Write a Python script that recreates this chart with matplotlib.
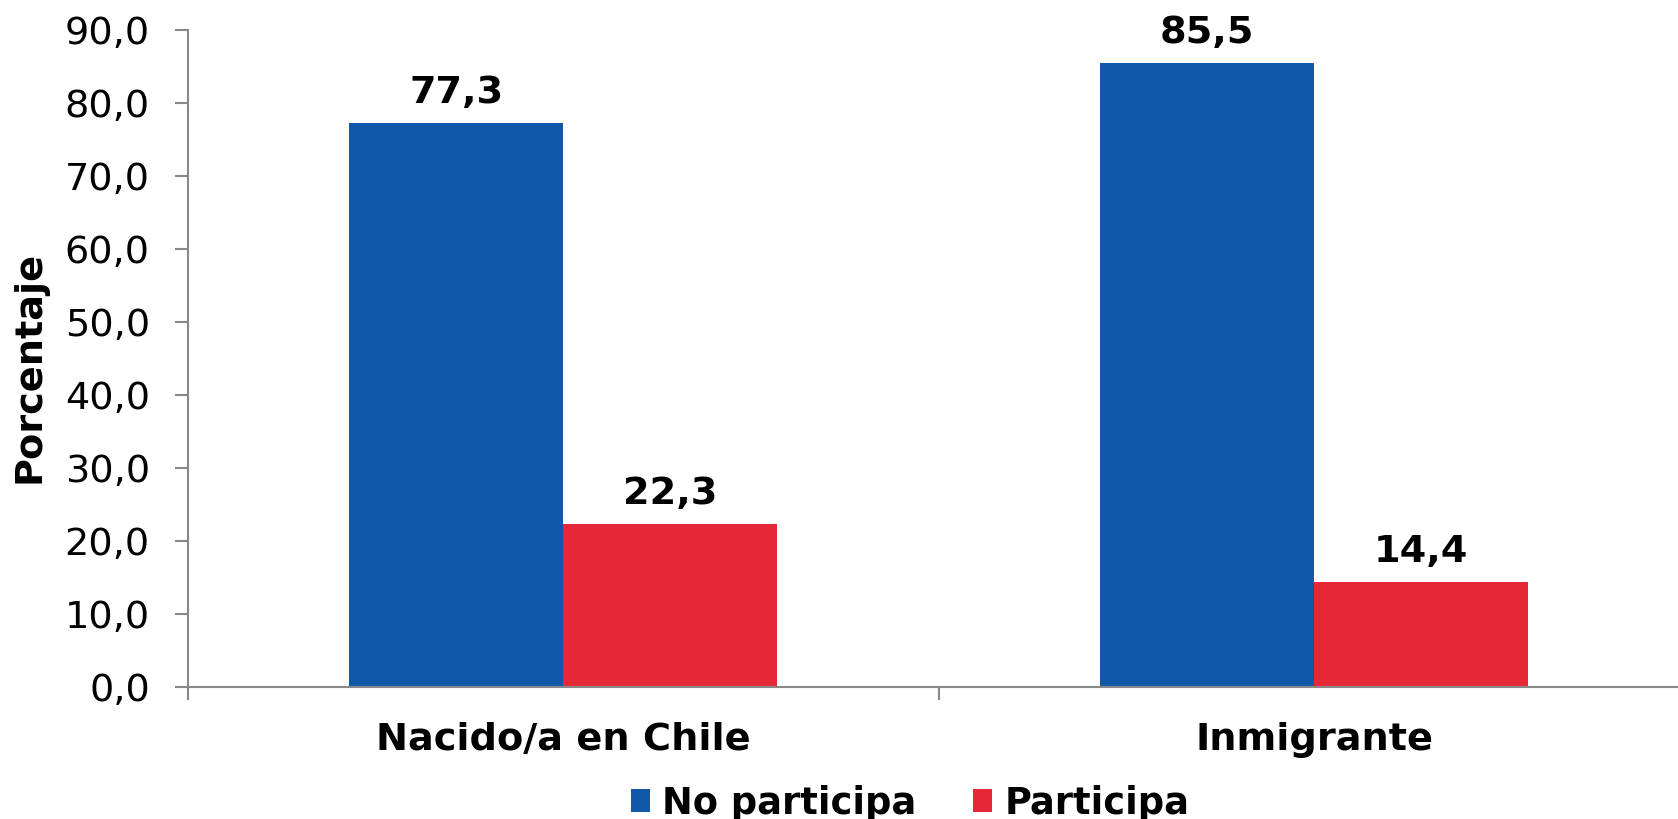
import matplotlib.pyplot as plt
import numpy as np

# datos
categorias = ['Nacido/a en Chile', 'Inmigrante']
no_participa = [77.3, 85.5]
participa = [22.3, 14.4]
series = ['No participa', 'Participa']
colores = ['#1057A7', '#E62836']


def main():
    plt.rcParams['font.family'] = 'DejaVu Sans'
    fig = plt.figure(figsize=(16.78, 8.19), dpi=100)
    # the axis runs a little past the right edge, like the original
    ax = fig.add_axes([188 / 1678, 132 / 819, (1689.5 - 188) / 1678, (687 - 30) / 819])

    ind = np.arange(len(categorias))
    width = 0.285
    b1 = ax.bar(ind - width / 2, no_participa, width, color=colores[0], label=series[0])
    b2 = ax.bar(ind + width / 2, participa, width, color=colores[1], label=series[1])

    for bars in (b1, b2):
        for rect in bars:
            h = rect.get_height()
            ax.annotate('{:.1f}'.format(h).replace('.', ','),
                        (rect.get_x() + rect.get_width() / 2, h),
                        xytext=(0, 8.5), textcoords='offset points',
                        ha='center', va='bottom', fontsize=27.5, fontweight='bold')

    ax.set_xlim(-0.5, 1.5)
    ax.set_ylim(0, 90)
    yt = np.arange(0, 91, 10)
    ax.set_yticks(yt)
    ax.set_yticklabels(['{:.1f}'.format(v).replace('.', ',') for v in yt], fontsize=27.5)
    ax.tick_params(axis='y', length=9.5, width=1.5, color='#888888', pad=18)

    ax.set_xticks(ind)
    ax.set_xticklabels(categorias, fontsize=27.5, fontweight='bold')
    ax.set_xticks([-0.5, 0.5, 1.5], minor=True)
    ax.tick_params(axis='x', which='major', length=0, pad=25)
    ax.tick_params(axis='x', which='minor', length=9, width=1.5, color='#888888')

    for s in ['top', 'right']:
        ax.spines[s].set_visible(False)
    for s in ['left', 'bottom']:
        ax.spines[s].set_color('#888888')
        ax.spines[s].set_linewidth(1.5)

    fig.text(30 / 1678, 1 - 367 / 819, 'Porcentaje', rotation=90, ha='center', va='center',
             fontsize=27.5, fontweight='bold')

    fig.legend(handles=[b1, b2], labels=series, loc='center',
               bbox_to_anchor=(910 / 1678, 1 - 803 / 819), ncol=2, frameon=False,
               prop={'weight': 'bold', 'size': 26.5},
               handlelength=0.52, handleheight=0.55, handletextpad=0.33,
               columnspacing=1.55, borderpad=0, borderaxespad=0)

    fig.savefig('out.png', dpi=100)


if __name__ == "__main__":
    main()
